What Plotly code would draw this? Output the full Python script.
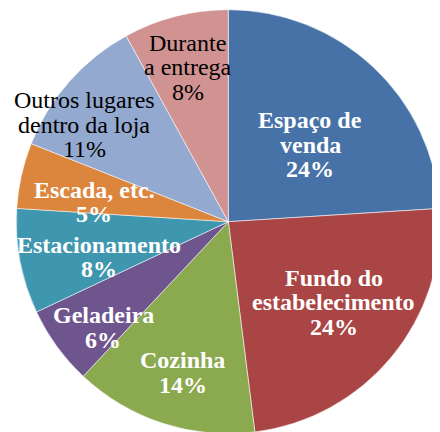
import math
import plotly.graph_objects as go

# ---- data ----
categories = ["Espaço de venda", "Fundo do estabelecimento", "Cozinha", "Geladeira",
              "Estacionamento", "Escada, etc.", "Outros lugares dentro da loja", "Durante a entrega"]
label_lines = [["Espaço de", "venda"], ["Fundo do", "estabelecimento"], ["Cozinha"], ["Geladeira"],
               ["Estacionamento"], ["Escada, etc."], ["Outros lugares", "dentro da loja"], ["Durante", "a entrega"]]
values = [24, 24, 14, 6, 8, 5, 11, 8]

# ---- style ----
colors = ["#4672A8", "#A94544", "#8BA94F", "#6F558E", "#3F97AF", "#DC853D", "#93A9CF", "#D09392"]
text_colors = ["white"] * 6 + ["black"] * 2
text_bold = [True] * 6 + [False] * 2
label_radius = [0.531, 0.626, 0.744, 0.772, 0.631, 0.638, 0.818, 0.753]
label_nudge = [3.6, -2.1, -1.2, -4.3, -4.6, -4.2, -7.5, -0.3]

PAGE_OFF = 8            # default body margin of the html page
W, H = 444 - PAGE_OFF, 436 - PAGE_OFF
CX, CY, R = 228.3 - PAGE_OFF, 221.7 - PAGE_OFF, 212
FONT = "Liberation Serif"
FS = 24
LINE = 24.5

fig = go.Figure(go.Pie(
    labels=categories, values=values, sort=False, direction="clockwise", rotation=0,
    marker=dict(colors=colors, line=dict(color="rgba(255,255,255,0.55)", width=1)),
    textinfo="none", hoverinfo="label+percent", showlegend=False,
    domain=dict(x=[max(0, (CX - R) / W), min(1, (CX + R) / W)],
                y=[max(0, 1 - (CY + R) / H), min(1, 1 - (CY - R) / H)]),
))

total = sum(values)
annotations = []
cum = 0
for i, v in enumerate(values):
    mid = (cum + v / 2) / total * 360 + label_nudge[i]
    cum += v
    r = label_radius[i] * R
    px = CX + r * math.sin(math.radians(mid))
    py = CY - r * math.cos(math.radians(mid))
    lines = label_lines[i] + [f"{round(v / total * 100)}%"]
    n = len(lines)
    for j, t in enumerate(lines):
        ly = py + (j - (n - 1) / 2) * LINE
        txt = f"<b>{t}</b>" if text_bold[i] else t
        annotations.append(dict(
            x=px / W, y=1 - ly / H, xref="paper", yref="paper", text=txt, showarrow=False,
            xanchor="center", yanchor="middle",
            font=dict(family=FONT, size=FS, color=text_colors[i])))

fig.update_layout(width=W, height=H, margin=dict(l=0, r=0, t=0, b=0),
                  paper_bgcolor="white", plot_bgcolor="white", annotations=annotations)
fig.write_html("out.html")
